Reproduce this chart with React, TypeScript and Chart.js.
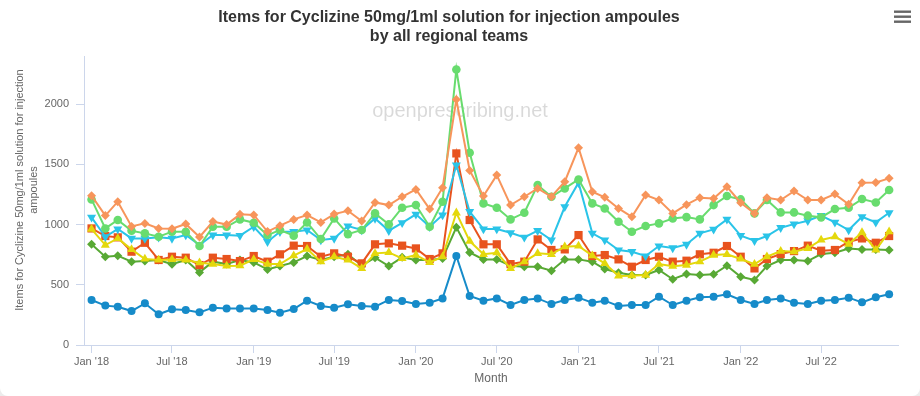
import React, { useEffect, useRef } from 'react';
import { Chart, registerables } from 'chart.js';

Chart.register(...registerables);

const months = [
  '2018-01', '2018-02', '2018-03', '2018-04', '2018-05', '2018-06', '2018-07', '2018-08', '2018-09', '2018-10', '2018-11', '2018-12',
  '2019-01', '2019-02', '2019-03', '2019-04', '2019-05', '2019-06', '2019-07', '2019-08', '2019-09', '2019-10', '2019-11', '2019-12',
  '2020-01', '2020-02', '2020-03', '2020-04', '2020-05', '2020-06', '2020-07', '2020-08', '2020-09', '2020-10', '2020-11', '2020-12',
  '2021-01', '2021-02', '2021-03', '2021-04', '2021-05', '2021-06', '2021-07', '2021-08', '2021-09', '2021-10', '2021-11', '2021-12',
  '2022-01', '2022-02', '2022-03', '2022-04', '2022-05', '2022-06', '2022-07', '2022-08', '2022-09', '2022-10', '2022-11', '2022-12',
];

const tickMonths = ['2018-01', '2018-07', '2019-01', '2019-07', '2020-01', '2020-07', '2021-01', '2021-07', '2022-01', '2022-07'];
const tickLabels = ["Jan '18", "Jul '18", "Jan '19", "Jul '19", "Jan '20", "Jul '20", "Jan '21", "Jul '21", "Jan '22", "Jul '22"];
const yTicks = [0, 500, 1000, 1500, 2000];

const seriesNames = ['Region A', 'Region B', 'Region C', 'Region D', 'Region E', 'Region F', 'Region G'];

const blueValues = [
  374, 327, 318, 282, 346, 255, 296, 291, 271, 310, 304, 304,
  304, 291, 268, 299, 368, 324, 310, 338, 324, 318, 374, 365,
  340, 351, 387, 739, 407, 368, 387, 332, 374, 387, 340, 374,
  393, 351, 368, 324, 332, 332, 401, 332, 368, 396, 401, 421,
  374, 340, 374, 387, 351, 340, 368, 374, 393, 354, 396, 421,
];
const greenValues = [
  836, 733, 742, 692, 697, 706, 670, 706, 603, 692, 672, 706,
  686, 628, 656, 686, 739, 706, 733, 753, 659, 725, 656, 728,
  706, 706, 719, 977, 769, 711, 711, 659, 650, 650, 617, 711,
  711, 692, 631, 600, 581, 581, 623, 546, 590, 581, 587, 659,
  567, 540, 656, 706, 706, 697, 755, 766, 802, 794, 794, 789,
];
const redValues = [
  968, 905, 894, 775, 849, 706, 733, 725, 664, 725, 714, 697,
  739, 692, 753, 825, 822, 733, 761, 733, 678, 836, 844, 825,
  802, 714, 761, 1591, 1038, 836, 836, 672, 692, 877, 789, 794,
  913, 739, 747, 711, 650, 706, 733, 692, 700, 753, 766, 822,
  733, 636, 714, 755, 780, 825, 783, 789, 858, 885, 849, 905,
];
const yellowValues = [
  963, 830, 885, 794, 714, 706, 711, 706, 683, 672, 656, 659,
  711, 672, 672, 742, 797, 692, 733, 706, 636, 761, 769, 719,
  747, 686, 733, 1098, 863, 753, 766, 636, 692, 761, 753, 816,
  822, 742, 678, 573, 575, 581, 672, 655, 664, 692, 747, 753,
  714, 672, 733, 780, 775, 802, 872, 899, 838, 935, 789, 941,
];
const cyanValues = [
  1060, 899, 963, 885, 885, 894, 885, 913, 830, 913, 913, 908,
  982, 858, 941, 941, 955, 872, 885, 988, 955, 1051, 949, 1015,
  1085, 982, 1079, 1494, 1107, 963, 963, 932, 894, 949, 872, 1148,
  1348, 927, 872, 789, 775, 739, 822, 806, 835, 927, 960, 1043,
  908, 866, 905, 974, 1004, 1032, 1074, 1018, 955, 1065, 1018, 1098,
];
const lightGreenValues = [
  1209, 968, 1038, 949, 927, 899, 941, 941, 822, 982, 982, 1043,
  1015, 913, 955, 908, 1018, 880, 1051, 921, 955, 1093, 1002, 1140,
  1162, 982, 1190, 2288, 1597, 1176, 1140, 1043, 1098, 1328, 1231, 1300,
  1375, 1176, 1134, 1024, 941, 988, 1010, 1051, 1062, 1043, 1162, 1237,
  1209, 1093, 1204, 1101, 1101, 1074, 1060, 1129, 1140, 1212, 1184, 1287,
];
const orangeValues = [
  1240, 1075, 1190, 985, 1010, 968, 965, 1005, 897, 1025, 1000, 1085,
  1080, 942, 991, 1043, 1079, 1018, 1087, 1115, 1029, 1184, 1162, 1231,
  1292, 1129, 1306, 2039, 1450, 1237, 1411, 1162, 1231, 1300, 1231, 1356,
  1638, 1273, 1226, 1134, 1065, 1245, 1204, 1093, 1165, 1223, 1217, 1314,
  1182, 1093, 1223, 1204, 1278, 1204, 1204, 1253, 1168, 1348, 1350, 1384,
];

const FONT = "'Liberation Sans', Arial, Helvetica, sans-serif";

function dayOf(ym: string) {
  const [y, m] = ym.split('-').map(Number);
  return Date.UTC(y, m - 1, 1) / 86400000;
}

const seriesDefs = [
  { values: blueValues, color: '#168bc9', style: 'circle', radius: 4, rotation: 0 },
  { values: greenValues, color: '#58a934', style: 'rectRot', radius: 4.5, rotation: 0 },
  { values: redValues, color: '#e8531e', style: 'rect', radius: 5.8, rotation: 0 },
  { values: yellowValues, color: '#e4d80c', style: 'triangle', radius: 5.2, rotation: 0 },
  { values: cyanValues, color: '#2ac4e8', style: 'triangle', radius: 5.2, rotation: 180 },
  { values: lightGreenValues, color: '#68dc6e', style: 'circle', radius: 4.3, rotation: 0 },
  { values: orangeValues, color: '#f7955b', style: 'rectRot', radius: 4.5, rotation: 0 },
];

const decorPlugin = {
  id: 'decor',
  beforeDraw(chart: any) {
    const ctx = chart.ctx;
    const w = chart.width;
    const h = chart.height;
    ctx.save();
    ctx.fillStyle = '#ececec';
    ctx.fillRect(0, 0, w, h);
    ctx.fillStyle = '#ffffff';
    ctx.beginPath();
    (ctx as any).roundRect(0, -20, w, h + 20, 8);
    ctx.fill();
    ctx.restore();
  },
  beforeDatasetsDraw(chart: any) {
    const ctx = chart.ctx;
    ctx.save();
    ctx.font = `20px ${FONT}`;
    ctx.fillStyle = 'rgba(0,0,0,0.15)';
    ctx.textAlign = 'center';
    ctx.textBaseline = 'middle';
    ctx.fillText('openprescribing.net', 460, 111);
    ctx.restore();
  },
  afterDraw(chart: any) {
    const ctx = chart.ctx;
    ctx.save();
    ctx.fillStyle = '#666666';
    ctx.font = `11px ${FONT}`;
    ctx.textAlign = 'center';
    ctx.textBaseline = 'middle';
    const lines = ['Items for Cyclizine 50mg/1ml solution for injection', 'ampoules'];
    const xs = [20, 34];
    lines.forEach((t, i) => {
      ctx.save();
      ctx.translate(xs[i], 190);
      ctx.rotate(-Math.PI / 2);
      ctx.fillText(t, 0, 0);
      ctx.restore();
    });
    ctx.fillStyle = '#666666';
    [10.5, 15.5, 20.5].forEach((y) => ctx.fillRect(894, y, 17, 2.4));
    ctx.restore();
  },
};

export default function App() {
  const ref = useRef<HTMLCanvasElement>(null);

  useEffect(() => {
    document.body.style.margin = '0';
    const tickValues = tickMonths.map(dayOf);
    const chart = new Chart(ref.current as HTMLCanvasElement, {
      type: 'line',
      data: {
        datasets: seriesDefs.map((s, i) => ({
          label: seriesNames[i],
          data: months.map((m, j) => ({ x: dayOf(m), y: s.values[j] })),
          borderColor: s.color,
          backgroundColor: s.color,
          pointBackgroundColor: s.color,
          pointBorderWidth: 0,
          pointStyle: s.style as any,
          pointRadius: s.radius,
          pointHoverRadius: s.radius,
          pointRotation: s.rotation,
          borderWidth: 2,
          tension: 0,
          fill: false,
          order: seriesDefs.length - i,
        })),
      },
      options: {
        responsive: false,
        animation: false,
        devicePixelRatio: 1,
        events: [],
        layout: { padding: { top: 0, left: 0, right: 22, bottom: 0 } },
        plugins: {
          legend: { display: false },
          tooltip: { enabled: false },
          title: {
            display: true,
            text: ['Items for Cyclizine 50mg/1ml solution for injection ampoules', 'by all regional teams'],
            color: '#333333',
            font: { family: FONT, size: 16, weight: 'bold', lineHeight: 1.2 },
            padding: { top: 7.5, bottom: 10.1 },
          },
        },
        scales: {
          x: {
            type: 'linear',
            min: dayOf(months[0]) - 17,
            max: dayOf(months[months.length - 1]) + 20,
            afterBuildTicks: (scale: any) => {
              scale.ticks = tickValues.map((v) => ({ value: v }));
            },
            afterFit: (scale: any) => {
              scale.height = 51;
            },
            ticks: {
              autoSkip: false,
              maxRotation: 0,
              minRotation: 0,
              color: '#666666',
              font: { family: FONT, size: 11 },
              padding: 2,
              callback: (v: any) => {
                const idx = tickValues.indexOf(Number(v));
                return idx >= 0 ? tickLabels[idx] : '';
              },
            },
            grid: {
              drawOnChartArea: false,
              drawTicks: true,
              tickLength: 8,
              color: '#ccd6eb',
              tickColor: '#ccd6eb',
            },
            border: { display: true, color: '#ccd6eb', width: 1 },
            title: {
              display: true,
              text: 'Month',
              color: '#666666',
              font: { family: FONT, size: 12 },
              padding: { top: 0, bottom: 9.8 },
            },
          },
          y: {
            type: 'linear',
            min: 0,
            max: 2400,
            afterBuildTicks: (scale: any) => {
              scale.ticks = yTicks.map((v) => ({ value: v }));
            },
            afterFit: (scale: any) => {
              scale.width = 84;
            },
            ticks: {
              color: '#666666',
              font: { family: FONT, size: 11 },
              padding: 7,
              callback: (v: any) => String(v),
            },
            grid: {
              drawOnChartArea: false,
              drawTicks: true,
              tickLength: 8,
              color: '#ccd6eb',
              tickColor: '#ccd6eb',
            },
            border: { display: true, color: '#ccd6eb', width: 1 },
          },
        },
      },
      plugins: [decorPlugin],
    } as any);
    return () => chart.destroy();
  }, []);

  return (
    <div style={{ position: 'fixed', left: 0, top: 0, width: 920, height: 396, background: '#fff' }}>
      <canvas ref={ref} width={920} height={396} style={{ display: 'block', width: 920, height: 396 }} />
    </div>
  );
}
